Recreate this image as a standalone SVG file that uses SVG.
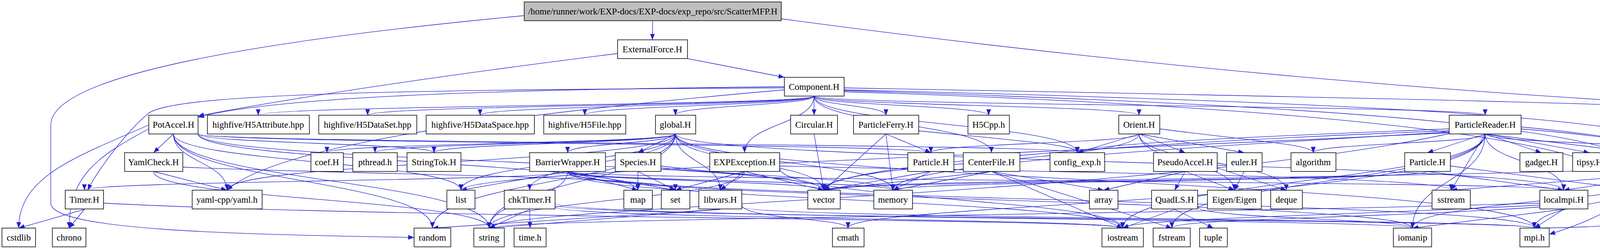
<svg xmlns="http://www.w3.org/2000/svg" width="4799" height="635" viewBox="0 0 4799 635">
<style>
.n rect{fill:#fff;stroke:#000;stroke-width:1.5}
.n text{font-family:"Liberation Serif",serif;font-size:23px;text-anchor:middle;fill:#000}
#top rect{fill:#bfbfbf}
#edges path{fill:none;stroke:#1f1fcf;stroke-width:1.3;marker-end:url(#a)}
</style>
<defs><marker id="a" markerUnits="userSpaceOnUse" markerWidth="16" markerHeight="12" refX="15" refY="6" orient="auto"><path d="M0,0 L15,6 L0,12 z" fill="#1f1fcf"/></marker></defs>
<g id="edges">
<path d="M1671 53 L1670 102"/>
<path d="M1342 40 C600 110 130 200 130 320 L130 520 C130 590 600 600 1060 608"/>
<path d="M2000 48 C3500 250 4500 270 4740 295"/>
<path d="M1760 150 L2008 198"/>
<path d="M1581 137 C1000 210 700 260 507 297"/>
<path d="M2008 222 C1200 230 700 250 507 300"/>
<path d="M2084 246 C2084 270 661 270 661 295"/>
<path d="M2084 246 C2084 270 941 270 941 295"/>
<path d="M2084 246 C2084 270 1229 270 1229 295"/>
<path d="M2084 246 C2084 270 1497 270 1497 295"/>
<path d="M2084 246 C2084 270 1729 270 1729 295"/>
<path d="M2084 246 L2084 295"/>
<path d="M2084 246 C2084 270 2268 270 2268 295"/>
<path d="M2084 246 C2084 270 2531 270 2531 295"/>
<path d="M2084 246 C2084 270 2916 270 2916 295"/>
<path d="M2084 246 C2084 270 3802 270 3802 295"/>
<path d="M2161 225 C3500 250 4500 270 4740 300"/>
<path d="M2084 246 C2084 318 1906 318 1906 391"/>
<path d="M2084 246 C2084 318 2538 318 2538 391"/>
<path d="M2084 246 C2084 318 2758 318 2758 391"/>
<path d="M2161 230 C3400 260 4300 300 4332 391"/>
<path d="M2161 232 C3400 270 4400 330 4191 487"/>
<path d="M2161 235 C3600 280 4600 400 3966 600"/>
<path d="M2008 225 C1000 230 450 240 380 290 C320 340 240 450 225 487"/>
<path d="M2008 230 C1200 300 700 380 581 487"/>
<path d="M444 343 L393 391"/>
<path d="M444 343 C444 415 581 415 581 487"/>
<path d="M444 343 C444 415 1180 415 1180 487"/>
<path d="M444 343 C444 463 1252 463 1252 584"/>
<path d="M444 343 C444 463 1107 463 1107 584"/>
<path d="M381 320 C200 400 48 450 48 584"/>
<path d="M381 330 C250 400 177 450 177 584"/>
<path d="M507 343 C507 367 1111 367 1111 391"/>
<path d="M507 343 C507 367 2758 367 2758 391"/>
<path d="M507 343 C507 367 2383 367 2383 391"/>
<path d="M507 343 C507 415 2109 415 2109 487"/>
<path d="M507 343 C507 415 1633 415 1633 487"/>
<path d="M393 439 L581 487"/>
<path d="M393 439 C393 511 1252 511 1252 584"/>
<path d="M468 428 C1000 450 1729 450 1729 487"/>
<path d="M216 536 L48 584"/>
<path d="M216 536 L177 584"/>
<path d="M265 520 C1000 560 2874 560 2874 584"/>
<path d="M1729 343 C1729 367 837 367 837 391"/>
<path d="M1729 343 C1729 367 960 367 960 391"/>
<path d="M1729 343 C1729 367 1111 367 1111 391"/>
<path d="M1729 343 C1729 367 1453 367 1453 391"/>
<path d="M1729 343 L1633 391"/>
<path d="M1729 343 C1729 415 1356 415 1356 487"/>
<path d="M1729 343 C1729 415 1844 415 1844 487"/>
<path d="M1729 343 C1729 415 581 415 581 487"/>
<path d="M1729 343 C1729 415 2109 415 2109 487"/>
<path d="M1729 343 C1729 415 2286 415 2286 487"/>
<path d="M1729 343 C1729 463 1107 463 1107 584"/>
<path d="M1729 343 C1729 463 1252 463 1252 584"/>
<path d="M1729 343 C1729 415 1180 415 1180 487"/>
<path d="M1729 343 C1729 415 4003 415 4003 487"/>
<path d="M1729 343 C1729 463 3928 463 3928 584"/>
<path d="M1453 439 C1453 463 216 463 216 487"/>
<path d="M1453 439 L1180 487"/>
<path d="M1453 439 C1453 511 1252 511 1252 584"/>
<path d="M1453 439 L1633 487"/>
<path d="M1453 439 L1729 487"/>
<path d="M1453 439 C1453 463 2109 463 2109 487"/>
<path d="M1453 439 C1453 463 2286 463 2286 487"/>
<path d="M1453 439 C1453 463 4003 463 4003 487"/>
<path d="M1453 439 C1453 511 2874 511 2874 584"/>
<path d="M1453 439 C1453 511 3928 511 3928 584"/>
<path d="M1453 439 C1453 511 3616 511 3616 584"/>
<path d="M1356 536 L1357 584"/>
<path d="M1356 536 L1252 584"/>
<path d="M1421 520 C1421 560 3616 560 3616 584"/>
<path d="M1421 525 C1421 560 3928 560 3928 584"/>
<path d="M1421 530 C1421 560 2874 560 2874 584"/>
<path d="M1633 439 L1633 487"/>
<path d="M1633 439 L1729 487"/>
<path d="M1692 425 C1900 450 2109 460 2109 487"/>
<path d="M1692 430 C1900 450 2286 460 2286 487"/>
<path d="M1906 439 L1729 487"/>
<path d="M1906 439 L1844 487"/>
<path d="M1906 439 L2109 487"/>
<path d="M1906 439 C1906 511 1252 511 1252 584"/>
<path d="M1996 425 C2600 440 3715 450 3715 487"/>
<path d="M1996 430 C1996 511 2874 511 2874 584"/>
<path d="M1844 536 L1107 584"/>
<path d="M1844 536 L1252 584"/>
<path d="M1899 530 C1899 560 3928 560 3928 584"/>
<path d="M1899 525 C1899 560 2171 560 2171 584"/>
<path d="M2084 343 L2109 487"/>
<path d="M2268 343 L2383 391"/>
<path d="M2268 343 L2109 487"/>
<path d="M2268 343 L2286 487"/>
<path d="M2352 335 C2600 360 2758 370 2758 391"/>
<path d="M2383 439 L2109 487"/>
<path d="M2383 439 L2286 487"/>
<path d="M2538 439 L2109 487"/>
<path d="M2538 439 L2825 487"/>
<path d="M2538 439 L3000 584"/>
<path d="M2538 439 L2874 584"/>
<path d="M2538 439 L2286 487"/>
<path d="M2916 343 C2916 367 2383 367 2383 391"/>
<path d="M2916 343 L2758 391"/>
<path d="M2916 343 L3034 391"/>
<path d="M2916 343 L3185 391"/>
<path d="M2916 343 C2916 415 2109 415 2109 487"/>
<path d="M2916 343 C2916 415 3293 415 3293 487"/>
<path d="M2969 330 C3200 360 3362 370 3362 391"/>
<path d="M2916 343 C2916 415 3160 415 3160 487"/>
<path d="M3034 439 L2825 487"/>
<path d="M3034 439 L3007 487"/>
<path d="M3034 439 L3160 487"/>
<path d="M3116 430 L3293 487"/>
<path d="M3185 439 L3160 487"/>
<path d="M3007 536 L2874 584"/>
<path d="M3007 536 L3106 584"/>
<path d="M3066 530 C3066 560 3616 560 3616 584"/>
<path d="M3802 343 L3654 391"/>
<path d="M3802 343 L3946 391"/>
<path d="M3802 343 L4069 391"/>
<path d="M3802 343 L4195 391"/>
<path d="M3802 343 C3802 367 4332 367 4332 391"/>
<path d="M3802 343 C3802 367 3362 367 3362 391"/>
<path d="M3710 330 C3200 350 2758 370 2758 391"/>
<path d="M3710 335 C3000 360 2109 420 2109 487"/>
<path d="M3710 338 C3000 380 2286 420 2286 487"/>
<path d="M3710 340 C2500 400 1180 440 1180 487"/>
<path d="M3802 343 L3715 487"/>
<path d="M3802 343 C3802 415 4003 415 4003 487"/>
<path d="M3894 330 C4500 380 4400 450 4191 487"/>
<path d="M3802 343 C3802 463 3616 463 3616 584"/>
<path d="M3894 325 C4700 400 4600 580 3928 584"/>
<path d="M3802 343 C3802 463 3000 463 3000 584"/>
<path d="M3802 343 C3802 463 2874 463 2874 584"/>
<path d="M3710 342 C3000 500 1252 530 1252 584"/>
<path d="M3802 343 C3802 520 2171 520 2171 584"/>
<path d="M3654 439 C3654 463 2109 463 2109 487"/>
<path d="M3654 439 C3654 463 2286 463 2286 487"/>
<path d="M3713 425 L4191 487"/>
<path d="M3654 439 L4003 487"/>
<path d="M4332 439 L4003 487"/>
<path d="M4332 439 L3715 487"/>
<path d="M4332 439 C4332 511 3616 511 3616 584"/>
<path d="M4332 439 C4332 511 3928 511 3928 584"/>
<path d="M4278 430 C3500 460 2109 460 2109 487"/>
<path d="M4003 536 L3928 584"/>
<path d="M4003 536 L3616 584"/>
<path d="M3942 525 C3500 550 2874 560 2874 584"/>
<path d="M3942 520 C3000 550 1252 560 1252 584"/>
<path d="M3942 530 C3500 560 3000 560 3000 584"/>
</g>
<g id="top" class="n"><rect x="1342" y="5" width="658" height="48"/><text x="1671" y="37">/home/runner/work/EXP-docs/EXP-docs/exp_repo/src/ScatterMFP.H</text></g>
<g id="ExternalForce" class="n"><rect x="1581" y="102" width="179" height="48"/><text x="1670" y="134">ExternalForce.H</text></g>
<g id="Component" class="n"><rect x="2008" y="198" width="153" height="48"/><text x="2084" y="230">Component.H</text></g>
<g id="PotAccel" class="n"><rect x="381" y="295" width="126" height="48"/><text x="444" y="327">PotAccel.H</text></g>
<g id="H5Attribute" class="n"><rect x="531" y="295" width="261" height="48"/><text x="661" y="327">highfive/H5Attribute.hpp</text></g>
<g id="H5DataSet" class="n"><rect x="816" y="295" width="251" height="48"/><text x="941" y="327">highfive/H5DataSet.hpp</text></g>
<g id="H5DataSpace" class="n"><rect x="1091" y="295" width="277" height="48"/><text x="1229" y="327">highfive/H5DataSpace.hpp</text></g>
<g id="H5File" class="n"><rect x="1392" y="295" width="210" height="48"/><text x="1497" y="327">highfive/H5File.hpp</text></g>
<g id="global" class="n"><rect x="1678" y="295" width="103" height="48"/><text x="1729" y="327">global.H</text></g>
<g id="Circular" class="n"><rect x="2024" y="295" width="120" height="48"/><text x="2084" y="327">Circular.H</text></g>
<g id="ParticleFerry" class="n"><rect x="2185" y="295" width="167" height="48"/><text x="2268" y="327">ParticleFerry.H</text></g>
<g id="H5Cpp" class="n"><rect x="2478" y="295" width="106" height="48"/><text x="2531" y="327">H5Cpp.h</text></g>
<g id="Orient" class="n"><rect x="2864" y="295" width="105" height="48"/><text x="2916" y="327">Orient.H</text></g>
<g id="ParticleReader" class="n"><rect x="3710" y="295" width="184" height="48"/><text x="3802" y="327">ParticleReader.H</text></g>
<g id="utility" class="n"><rect x="4715" y="295" width="79" height="48"/><text x="4754" y="327">utility</text></g>
<g id="YamlCheck" class="n"><rect x="319" y="391" width="149" height="48"/><text x="393" y="423">YamlCheck.H</text></g>
<g id="coef" class="n"><rect x="796" y="391" width="83" height="48"/><text x="837" y="423">coef.H</text></g>
<g id="pthread" class="n"><rect x="903" y="391" width="114" height="48"/><text x="960" y="423">pthread.h</text></g>
<g id="StringTok" class="n"><rect x="1042" y="391" width="138" height="48"/><text x="1111" y="423">StringTok.H</text></g>
<g id="BarrierWrapper" class="n"><rect x="1356" y="391" width="194" height="48"/><text x="1453" y="423">BarrierWrapper.H</text></g>
<g id="Species" class="n"><rect x="1575" y="391" width="117" height="48"/><text x="1633" y="423">Species.H</text></g>
<g id="EXPException" class="n"><rect x="1817" y="391" width="179" height="48"/><text x="1906" y="423">EXPException.H</text></g>
<g id="Particle1" class="n"><rect x="2324" y="391" width="118" height="48"/><text x="2383" y="423">Particle.H</text></g>
<g id="CenterFile" class="n"><rect x="2466" y="391" width="145" height="48"/><text x="2538" y="423">CenterFile.H</text></g>
<g id="config_exp" class="n"><rect x="2688" y="391" width="140" height="48"/><text x="2758" y="423">config_exp.h</text></g>
<g id="PseudoAccel" class="n"><rect x="2953" y="391" width="163" height="48"/><text x="3034" y="423">PseudoAccel.H</text></g>
<g id="euler" class="n"><rect x="3140" y="391" width="91" height="48"/><text x="3185" y="423">euler.H</text></g>
<g id="algorithm" class="n"><rect x="3305" y="391" width="115" height="48"/><text x="3362" y="423">algorithm</text></g>
<g id="Particle2" class="n"><rect x="3596" y="391" width="117" height="48"/><text x="3654" y="423">Particle.H</text></g>
<g id="gadget" class="n"><rect x="3891" y="391" width="110" height="48"/><text x="3946" y="423">gadget.H</text></g>
<g id="tipsy" class="n"><rect x="4026" y="391" width="87" height="48"/><text x="4069" y="423">tipsy.H</text></g>
<g id="stdexcept" class="n"><rect x="4138" y="391" width="115" height="48"/><text x="4195" y="423">stdexcept</text></g>
<g id="header" class="n"><rect x="4278" y="391" width="108" height="48"/><text x="4332" y="423">header.H</text></g>
<g id="Timer" class="n"><rect x="167" y="487" width="98" height="48"/><text x="216" y="519">Timer.H</text></g>
<g id="yaml" class="n"><rect x="492" y="487" width="179" height="48"/><text x="581" y="519">yaml-cpp/yaml.h</text></g>
<g id="list" class="n"><rect x="1144" y="487" width="72" height="48"/><text x="1180" y="519">list</text></g>
<g id="chkTimer" class="n"><rect x="1291" y="487" width="130" height="48"/><text x="1356" y="519">chkTimer.H</text></g>
<g id="map" class="n"><rect x="1597" y="487" width="73" height="48"/><text x="1633" y="519">map</text></g>
<g id="set" class="n"><rect x="1693" y="487" width="73" height="48"/><text x="1729" y="519">set</text></g>
<g id="libvars" class="n"><rect x="1789" y="487" width="110" height="48"/><text x="1844" y="519">libvars.H</text></g>
<g id="vector" class="n"><rect x="2068" y="487" width="83" height="48"/><text x="2109" y="519">vector</text></g>
<g id="memory" class="n"><rect x="2237" y="487" width="99" height="48"/><text x="2286" y="519">memory</text></g>
<g id="array" class="n"><rect x="2789" y="487" width="73" height="48"/><text x="2825" y="519">array</text></g>
<g id="QuadLS" class="n"><rect x="2948" y="487" width="118" height="48"/><text x="3007" y="519">QuadLS.H</text></g>
<g id="Eigen" class="n"><rect x="3091" y="487" width="138" height="48"/><text x="3160" y="519">Eigen/Eigen</text></g>
<g id="deque" class="n"><rect x="3253" y="487" width="81" height="48"/><text x="3293" y="519">deque</text></g>
<g id="sstream" class="n"><rect x="3666" y="487" width="98" height="48"/><text x="3715" y="519">sstream</text></g>
<g id="localmpi" class="n"><rect x="3942" y="487" width="123" height="48"/><text x="4003" y="519">localmpi.H</text></g>
<g id="unordered_map" class="n"><rect x="4105" y="487" width="172" height="48"/><text x="4191" y="519">unordered_map</text></g>
<g id="cstdlib" class="n"><rect x="5" y="584" width="86" height="48"/><text x="48" y="616">cstdlib</text></g>
<g id="chrono" class="n"><rect x="134" y="584" width="86" height="48"/><text x="177" y="616">chrono</text></g>
<g id="random" class="n"><rect x="1060" y="584" width="94" height="48"/><text x="1107" y="616">random</text></g>
<g id="string" class="n"><rect x="1213" y="584" width="78" height="48"/><text x="1252" y="616">string</text></g>
<g id="time" class="n"><rect x="1316" y="584" width="82" height="48"/><text x="1357" y="616">time.h</text></g>
<g id="cmath" class="n"><rect x="2131" y="584" width="81" height="48"/><text x="2171" y="616">cmath</text></g>
<g id="iostream" class="n"><rect x="2821" y="584" width="106" height="48"/><text x="2874" y="616">iostream</text></g>
<g id="fstream" class="n"><rect x="2952" y="584" width="95" height="48"/><text x="3000" y="616">fstream</text></g>
<g id="tuple" class="n"><rect x="3071" y="584" width="71" height="48"/><text x="3106" y="616">tuple</text></g>
<g id="iomanip" class="n"><rect x="3567" y="584" width="98" height="48"/><text x="3616" y="616">iomanip</text></g>
<g id="mpi" class="n"><rect x="3891" y="584" width="75" height="48"/><text x="3928" y="616">mpi.h</text></g>
</svg>
